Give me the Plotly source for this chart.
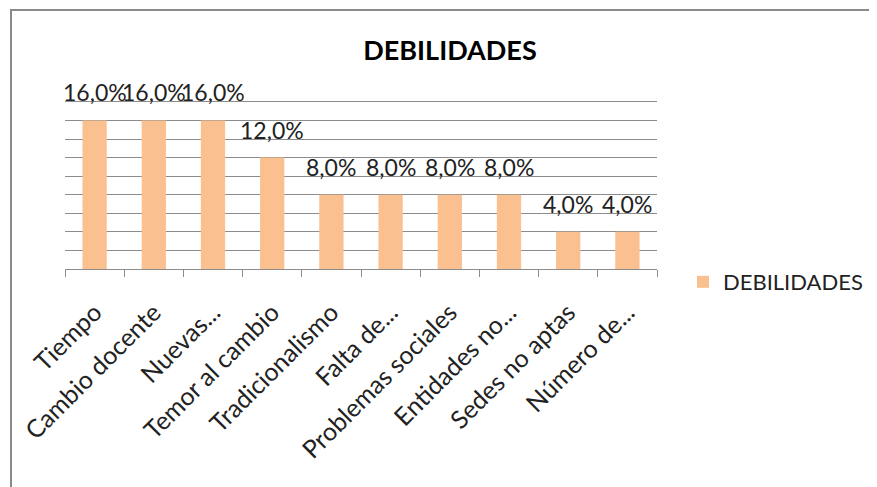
import plotly.graph_objects as go

categories = ["Tiempo", "Cambio docente", "Nuevas...", "Temor al cambio", "Tradicionalismo",
              "Falta de...", "Problemas sociales", "Entidades no...", "Sedes no aptas", "Número de..."]
values = [16.0, 16.0, 16.0, 12.0, 8.0, 8.0, 8.0, 8.0, 4.0, 4.0]
series_name = "DEBILIDADES"
title_text = "DEBILIDADES"

labels = [f"{v:.1f}%".replace(".", ",") for v in values]

W, H = 877, 487
OFF = 8  # page body margin offset
L, R, T, B = 65 - OFF, W - (657 - OFF), 100 - OFF, H - (269 - OFF)
pw, ph = W - L - R, H - T - B

FONT = "Lato, 'Open Sans', sans-serif"
GRID = "#8c8c8c"

fig = go.Figure()
fig.add_trace(go.Bar(
    x=categories, y=values, name=series_name,
    marker=dict(color="#FAC090", line=dict(width=0)),
    showlegend=True,
))

annotations = []
for c, v, t in zip(categories, values, labels):
    annotations.append(dict(x=c, y=v, xref="x", yref="y", text=t, showarrow=False,
                            yanchor="bottom", xanchor="center", yshift=12,
                            font=dict(family=FONT, size=23, color="#222222")))

def px_x(p):
    return (p - OFF - L) / pw

def px_y(p):
    return (H - B - (p - OFF)) / ph

fig.update_layout(
    width=W, height=H,
    margin=dict(l=L, r=R, t=T, b=B, autoexpand=False),
    paper_bgcolor="white", plot_bgcolor="white",
    bargap=0.59,
    title=dict(text=f"<b>{title_text}</b>", x=(450 - OFF) / W, xanchor="center",
               y=1 - (51 - OFF) / H, yanchor="middle",
               font=dict(family=FONT, size=27, color="#000000")),
    font=dict(family=FONT, color="#222222"),
    xaxis=dict(
        type="category", showgrid=False, showline=True, linecolor=GRID, linewidth=1,
        ticks="outside", tickson="boundaries", ticklen=7, tickcolor=GRID, tickwidth=1,
        tickangle=-45, tickfont=dict(family=FONT, size=25, color="#222222"),
        ticklabelstandoff=18,
        range=[-0.5, len(categories) - 0.5], automargin=False,
    ),
    yaxis=dict(
        range=[0, 18.2], tick0=0, dtick=2, showticklabels=False, showgrid=True, gridcolor=GRID,
        gridwidth=1, zeroline=False, showline=False, ticks="", automargin=False,
    ),
    legend=dict(x=px_x(683), y=px_y(261), xanchor="left", yanchor="top",
                font=dict(family=FONT, size=22, color="#222222"),
                bgcolor="rgba(0,0,0,0)"),
    annotations=annotations,
    shapes=[dict(type="rect", xref="paper", yref="paper",
                 x0=px_x(11), x1=px_x(W + 40), y0=px_y(H + 40), y1=px_y(10),
                 line=dict(color="#8a8a8a", width=2), fillcolor="rgba(0,0,0,0)", layer="below")],
)

fig.write_html("out.html")
